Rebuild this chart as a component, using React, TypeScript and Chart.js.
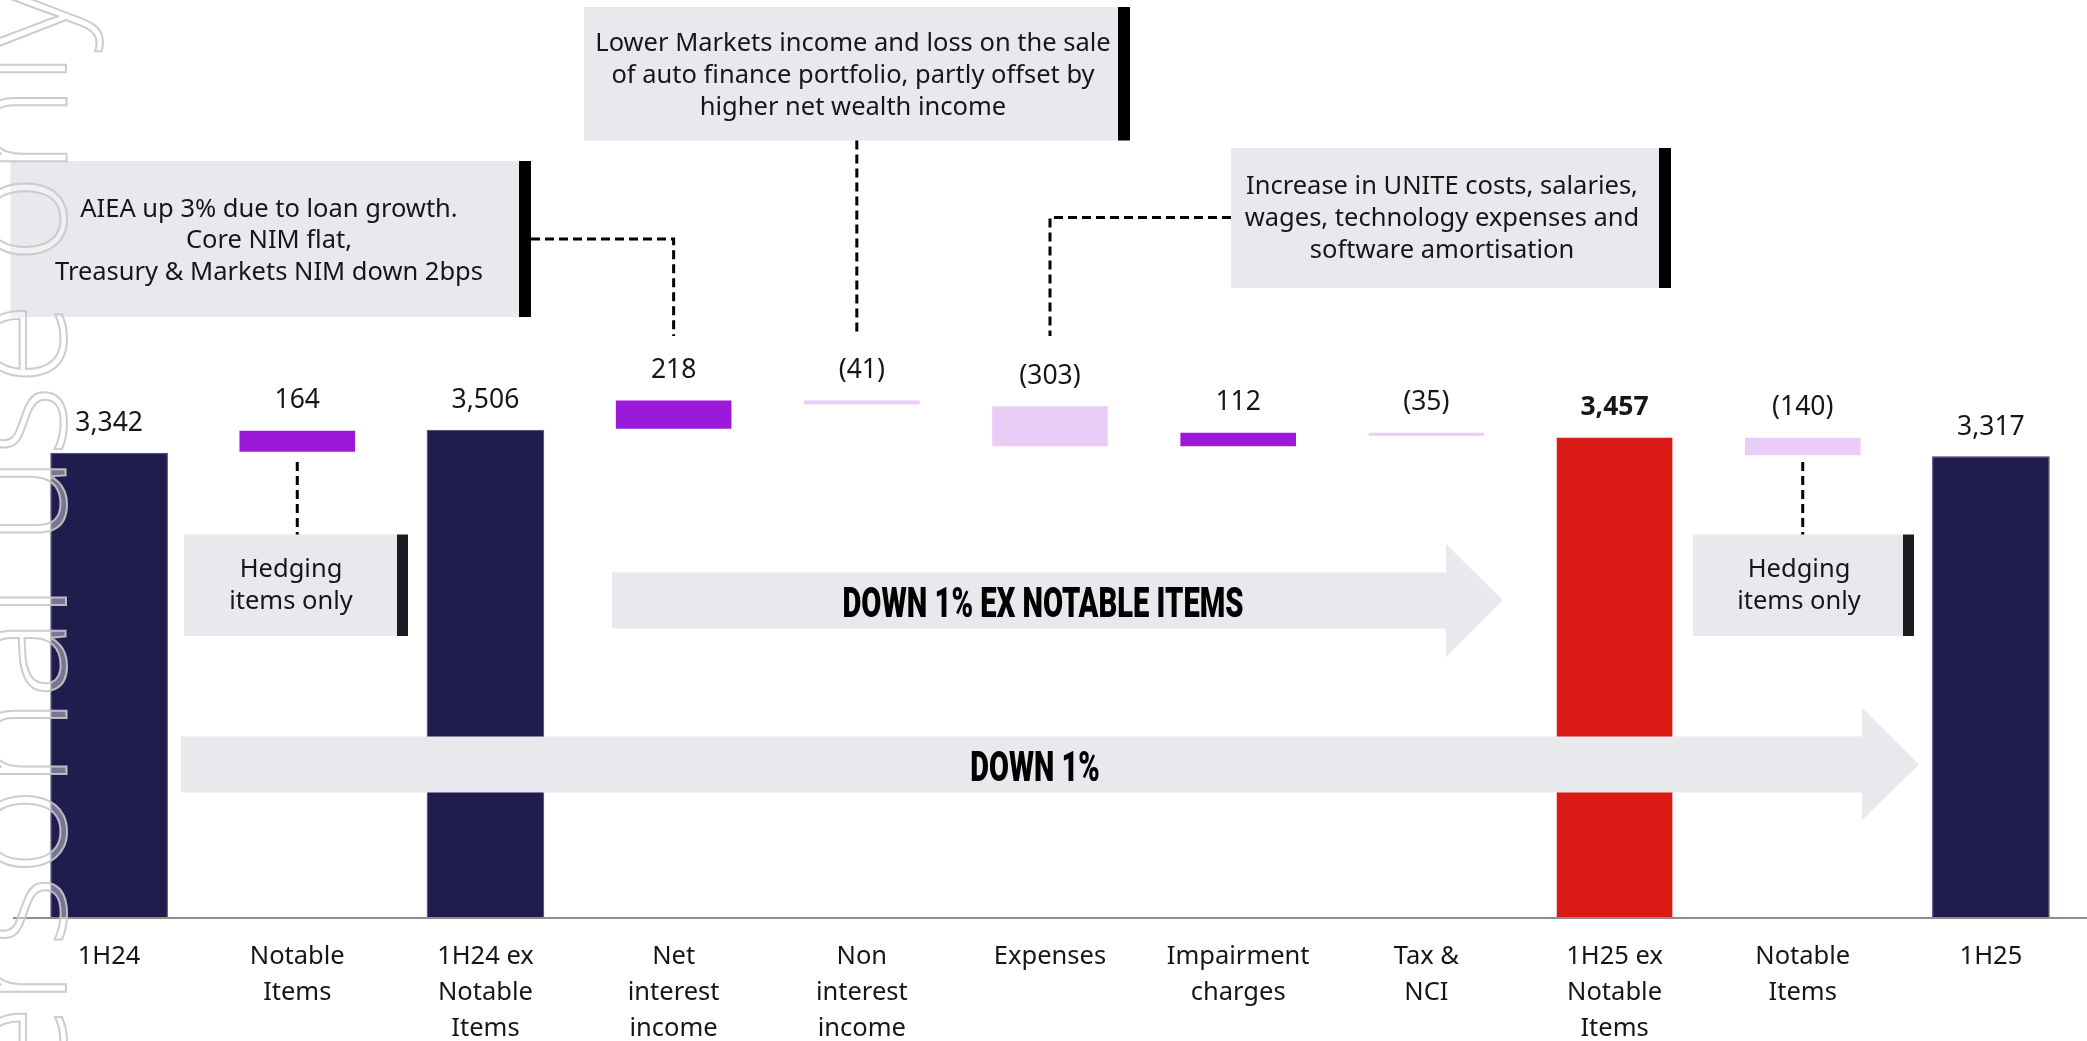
import React, { useEffect, useRef } from 'react';
import { Chart, registerables } from 'chart.js';

Chart.register(...registerables);

// ---------- data ----------
const categories: string[][] = [
  ['1H24'],
  ['Notable', 'Items'],
  ['1H24 ex', 'Notable', 'Items'],
  ['Net', 'interest', 'income'],
  ['Non', 'interest', 'income'],
  ['Expenses'],
  ['Impairment', 'charges'],
  ['Tax &', 'NCI'],
  ['1H25 ex', 'Notable', 'Items'],
  ['Notable', 'Items'],
  ['1H25'],
];
const values: number[] = [3342, 164, 3506, 218, -41, -303, 112, -35, 3457, -140, 3317];
const isTotal: boolean[] = [true, false, true, false, false, false, false, false, true, false, true];
const highlightIndex = 8;

const noteNII: string[] = ['AIEA up 3% due to loan growth.', 'Core NIM flat,', 'Treasury & Markets NIM down 2bps'];
const noteNonII: string[] = ['Lower Markets income and loss on the sale', 'of auto finance portfolio, partly offset by', 'higher net wealth income'];
const noteExp: string[] = ['Increase in UNITE costs, salaries,', 'wages, technology expenses and', 'software amortisation'];
const noteHedge: string[] = ['Hedging', 'items only'];
const arrowTexts: string[] = ['DOWN 1% EX NOTABLE ITEMS', 'DOWN 1%'];
const watermark = 'For personal use only';

// ---------- derived ----------
const floating: [number, number][] = [];
{
  let run = 0;
  values.forEach((v, i) => {
    if (isTotal[i]) {
      floating.push([0, v]);
      run = v;
    } else {
      floating.push([run, run + v]);
      run += v;
    }
  });
}
const fmt = (v: number, total: boolean) => {
  const s = Math.abs(v).toLocaleString('en-US');
  if (total) return s;
  return v < 0 ? `(${s})` : s;
};

const NAVY = '#201C4E';
const RED = '#DA1A14';
const PURPLE = '#9B19D9';
const LILAC = '#EACDF6';
const BOX = '#E8E8ED';
const TEXT = '#161616';
const FONT = '"Noto Sans", "Open Sans", sans-serif';

const barColors = values.map((v, i) =>
  isTotal[i] ? (i === highlightIndex ? RED : NAVY) : v >= 0 ? PURPLE : LILAC
);
const borderColors = values.map((v, i) => (isTotal[i] && i !== highlightIndex ? '#3E3A6E' : 'rgba(0,0,0,0)'));

function drawBox(ctx: CanvasRenderingContext2D, x0: number, y0: number, x1: number, y1: number, barW: number, barColor: string, lines: string[], cx: number, firstY: number, step: number) {
  ctx.fillStyle = BOX;
  ctx.fillRect(x0, y0, x1 - x0, y1 - y0);
  ctx.fillStyle = barColor;
  ctx.fillRect(x1, y0, barW, y1 - y0);
  ctx.fillStyle = TEXT;
  ctx.font = `25.5px ${FONT}`;
  ctx.textAlign = 'center';
  ctx.textBaseline = 'alphabetic';
  lines.forEach((l, i) => {
    ctx.fillText(l, cx, firstY + i * step + 9);
  });
}

function dashed(ctx: CanvasRenderingContext2D, pts: [number, number][]) {
  ctx.save();
  ctx.strokeStyle = '#000';
  ctx.lineWidth = 3;
  ctx.setLineDash([9, 5]);
  ctx.beginPath();
  pts.forEach((p, i) => (i === 0 ? ctx.moveTo(p[0], p[1]) : ctx.lineTo(p[0], p[1])));
  ctx.stroke();
  ctx.restore();
}

function drawArrow(ctx: CanvasRenderingContext2D, x0: number, xb: number, xt: number, yt: number, yb: number, ht: number, hb: number) {
  const ym = (yt + yb) / 2;
  ctx.fillStyle = BOX;
  ctx.beginPath();
  ctx.moveTo(x0, yt);
  ctx.lineTo(xb, yt);
  ctx.lineTo(xb, ht);
  ctx.lineTo(xt, ym);
  ctx.lineTo(xb, hb);
  ctx.lineTo(xb, yb);
  ctx.lineTo(x0, yb);
  ctx.closePath();
  ctx.fill();
}

function condensedText(ctx: CanvasRenderingContext2D, text: string, cx: number, baseY: number, targetW: number) {
  ctx.save();
  ctx.font = `900 43px Roboto, "DejaVu Sans", sans-serif`;
  const w = ctx.measureText(text).width;
  ctx.translate(cx, baseY);
  ctx.scale(targetW / w, 1);
  ctx.fillStyle = '#000';
  ctx.textAlign = 'center';
  ctx.textBaseline = 'alphabetic';
  ctx.fillText(text, 0, 0);
  ctx.restore();
}

const overlay = {
  id: 'overlay',
  afterDraw(chart: any) {
    const ctx: CanvasRenderingContext2D = chart.ctx;
    const xs = chart.scales.x;
    const ys = chart.scales.y;
    const area = chart.chartArea;
    ctx.save();

    // baseline
    ctx.strokeStyle = '#8E8E8E';
    ctx.lineWidth = 2;
    ctx.beginPath();
    ctx.moveTo(13, area.bottom);
    ctx.lineTo(chart.width, area.bottom);
    ctx.stroke();

    // arrows
    drawArrow(ctx, 612, 1446, 1503, 572.5, 628.5, 544, 657);
    condensedText(ctx, arrowTexts[0], 1043, 616.5, 401);
    drawArrow(ctx, 181, 1862, 1919, 736.5, 792.5, 708, 820);
    condensedText(ctx, arrowTexts[1], 1035, 780.5, 129.5);

    // value labels
    floating.forEach((r, i) => {
      const top = ys.getPixelForValue(Math.max(r[0], r[1]));
      const cx = xs.getPixelForValue(i);
      ctx.fillStyle = TEXT;
      ctx.font = `${i === highlightIndex ? 'bold ' : ''}26.5px ${FONT}`;
      ctx.textAlign = 'center';
      ctx.textBaseline = 'alphabetic';
      ctx.fillText(fmt(values[i], isTotal[i]), cx, top - 21.5);
    });

    // annotation boxes
    drawBox(ctx, 10.5, 161, 519, 317, 12, '#000', noteNII, 269, 207.5, 31.5);
    drawBox(ctx, 584, 7, 1118, 140.5, 12, '#000', noteNonII, 853, 41.5, 32);
    drawBox(ctx, 1231, 148, 1659, 288, 12, '#000', noteExp, 1442, 185, 32);
    drawBox(ctx, 184, 534.5, 397, 636, 11, '#1A1C22', noteHedge, 291, 568, 32);
    drawBox(ctx, 1693, 534.5, 1903, 636, 11, '#1A1C22', noteHedge, 1799, 568, 32);

    // connectors
    const c3 = xs.getPixelForValue(3);
    const c4 = xs.getPixelForValue(4) - 5;
    const c5 = xs.getPixelForValue(5);
    const c1 = xs.getPixelForValue(1);
    const c9 = xs.getPixelForValue(9);
    dashed(ctx, [[531, 239], [c3, 239], [c3, 336]]);
    dashed(ctx, [[c4, 140.5], [c4, 333]]);
    dashed(ctx, [[1231, 217.5], [c5, 217.5], [c5, 336]]);
    dashed(ctx, [[c1, 462], [c1, 534.5]]);
    dashed(ctx, [[c9, 462], [c9, 534.5]]);

    // watermark
    ctx.save();
    ctx.translate(66, -18);
    ctx.rotate(-Math.PI / 2);
    ctx.font = `300 151px "Open Sans", sans-serif`;
    ctx.textAlign = 'right';
    ctx.textBaseline = 'alphabetic';
    ctx.fillStyle = 'rgba(255,255,255,0.4)';
    ctx.fillText(watermark, 0, 0);
    ctx.strokeStyle = 'rgba(200,200,200,0.9)';
    ctx.lineWidth = 2;
    ctx.strokeText(watermark, 0, 0);
    ctx.restore();

    ctx.restore();
  },
};

export default function App() {
  const ref = useRef<HTMLCanvasElement>(null);
  useEffect(() => {
    document.body.style.margin = '0';
    const chart = new Chart(ref.current as HTMLCanvasElement, {
      type: 'bar',
      data: {
        labels: categories,
        datasets: [
          {
            data: floating as any,
            backgroundColor: barColors,
            borderColor: borderColors,
            borderWidth: 1,
            borderSkipped: false,
            barPercentage: 0.625,
            categoryPercentage: 1,
          },
        ],
      },
      options: {
        responsive: false,
        animation: false,
        layout: { padding: { left: 15, right: 2, top: 0, bottom: 0 } },
        plugins: { legend: { display: false }, tooltip: { enabled: false } },
        scales: {
          x: {
            grid: { display: false, drawTicks: false },
            border: { display: false },
            ticks: {
              color: TEXT,
              font: { family: FONT, size: 25.5, lineHeight: 1.41 },
              padding: 20.7,
              maxRotation: 0,
              minRotation: 0,
              autoSkip: false,
            },
            afterFit: (s: any) => {
              s.height = 123;
            },
          },
          y: { display: false, min: 0, max: 6593 },
        },
      },
      plugins: [overlay],
    });
    return () => chart.destroy();
  }, []);
  return (
    <div style={{ position: 'fixed', left: 0, top: 0, width: 2087, height: 1041, background: '#fff' }}>
      <canvas ref={ref} width={2087} height={1041} style={{ width: 2087, height: 1041, display: 'block' }} />
    </div>
  );
}
